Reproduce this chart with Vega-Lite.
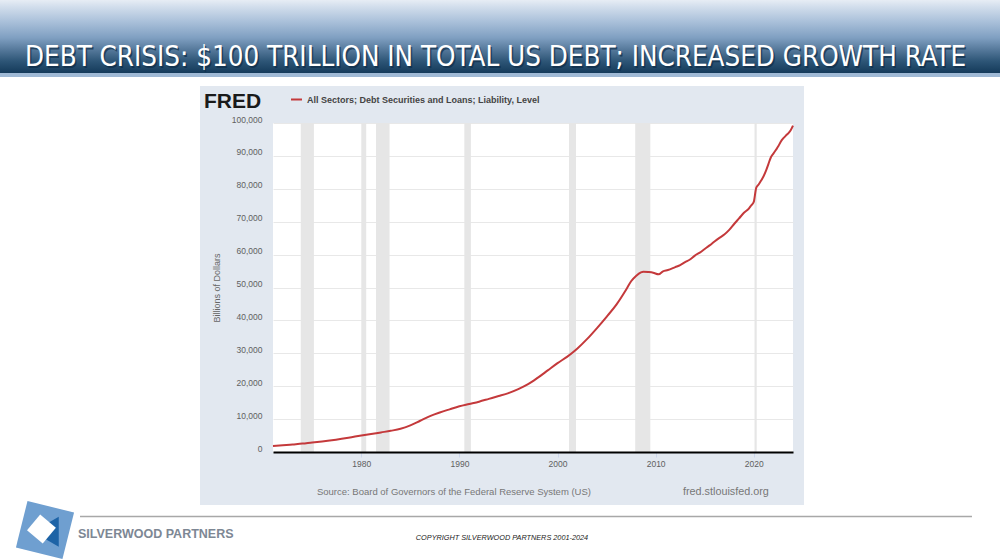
{
  "$schema": "https://vega.github.io/schema/vega-lite/v6.json",
  "width": 520,
  "height": 329,
  "autosize": {"type": "none"},
  "padding": {"left": 273, "top": 123, "right": 207, "bottom": 108},
  "background": "#e2e8f0",
  "config": {"view": {"stroke": null, "fill": "white"}, "font": "Liberation Sans"},
  "datasets": {
    "debt": [
      {"year": 1971.0, "value": 1850}, {"year": 1972.0, "value": 2050}, {"year": 1973.0, "value": 2300},
      {"year": 1974.0, "value": 2550}, {"year": 1975.0, "value": 2900}, {"year": 1976.0, "value": 3200},
      {"year": 1977.0, "value": 3550}, {"year": 1978.0, "value": 4000}, {"year": 1979.0, "value": 4500},
      {"year": 1980.0, "value": 5000}, {"year": 1981.0, "value": 5450}, {"year": 1982.0, "value": 5950},
      {"year": 1983.0, "value": 6450}, {"year": 1984.0, "value": 7050}, {"year": 1985.0, "value": 8100},
      {"year": 1986.0, "value": 9500}, {"year": 1987.0, "value": 10900}, {"year": 1988.0, "value": 12000},
      {"year": 1989.0, "value": 12970}, {"year": 1990.0, "value": 13900}, {"year": 1991.0, "value": 14600},
      {"year": 1992.0, "value": 15300}, {"year": 1993.0, "value": 16150}, {"year": 1994.0, "value": 17000},
      {"year": 1995.0, "value": 17900}, {"year": 1996.0, "value": 19100}, {"year": 1997.0, "value": 20600},
      {"year": 1998.0, "value": 22600}, {"year": 1999.0, "value": 24800}, {"year": 2000.0, "value": 27000},
      {"year": 2001.0, "value": 29000}, {"year": 2002.0, "value": 31400}, {"year": 2003.0, "value": 34300},
      {"year": 2004.0, "value": 37600}, {"year": 2005.0, "value": 41100}, {"year": 2006.0, "value": 44800},
      {"year": 2007.0, "value": 49400}, {"year": 2007.5, "value": 51900}, {"year": 2008.0, "value": 53500},
      {"year": 2008.5, "value": 54600}, {"year": 2008.75, "value": 54800}, {"year": 2009.25, "value": 54700},
      {"year": 2009.75, "value": 54500}, {"year": 2010.3, "value": 54000}, {"year": 2010.75, "value": 54900},
      {"year": 2011.25, "value": 55300}, {"year": 2012.0, "value": 56200}, {"year": 2012.5, "value": 56800},
      {"year": 2013.0, "value": 57700}, {"year": 2013.5, "value": 58500}, {"year": 2014.0, "value": 59700},
      {"year": 2014.5, "value": 60600}, {"year": 2015.0, "value": 61700}, {"year": 2015.5, "value": 62800},
      {"year": 2016.0, "value": 64000}, {"year": 2016.5, "value": 65100}, {"year": 2017.0, "value": 66100},
      {"year": 2017.5, "value": 67500}, {"year": 2018.0, "value": 69300}, {"year": 2018.5, "value": 71000},
      {"year": 2019.0, "value": 72700}, {"year": 2019.5, "value": 74000}, {"year": 2019.75, "value": 75000},
      {"year": 2020.0, "value": 76000}, {"year": 2020.25, "value": 80300}, {"year": 2020.5, "value": 81300},
      {"year": 2020.75, "value": 82500}, {"year": 2021.0, "value": 83800}, {"year": 2021.25, "value": 85500},
      {"year": 2021.5, "value": 87600}, {"year": 2021.75, "value": 89600}, {"year": 2022.0, "value": 90700},
      {"year": 2022.25, "value": 91800}, {"year": 2022.5, "value": 92900}, {"year": 2022.75, "value": 94300},
      {"year": 2023.0, "value": 95300}, {"year": 2023.25, "value": 96100}, {"year": 2023.5, "value": 96800},
      {"year": 2023.75, "value": 97700}, {"year": 2024.0, "value": 99200}
    ],
    "recessions": [
      {"start": 1973.83, "end": 1975.17}, {"start": 1980.0, "end": 1980.5},
      {"start": 1981.5, "end": 1982.88}, {"start": 1990.5, "end": 1991.17},
      {"start": 2001.17, "end": 2001.88}, {"start": 2007.92, "end": 2009.46},
      {"start": 2020.08, "end": 2020.3}
    ],
    "one": [{}]
  },
  "layer": [
    {
      "data": {"name": "recessions"},
      "mark": {"type": "rect", "fill": "#e6e6e6"},
      "encoding": {
        "x": {"field": "start", "type": "quantitative",
          "scale": {"domain": [1971, 2024], "nice": false, "zero": false},
          "axis": {"title": null, "values": [1980, 1990, 2000, 2010, 2020], "tickCount": 12, "format": "d", "grid": false,
            "domainColor": "#000000", "domainWidth": 2, "tickColor": "#ccd6eb", "tickSize": 5,
            "labelColor": "#606060", "labelFontSize": 8.5, "labelPadding": 2, "zindex": 1}},
        "x2": {"field": "end"},
        "y": {"datum": 0, "type": "quantitative",
          "scale": {"domain": [0, 100000], "nice": false, "zero": false},
          "axis": {"title": "Billions of Dollars", "titleFontSize": 9, "titleFontWeight": "normal",
            "titleColor": "#666666", "titlePadding": 10, "tickCount": 12,
            "values": [0, 10000, 20000, 30000, 40000, 50000, 60000, 70000, 80000, 90000, 100000],
            "format": ",d", "domain": false, "ticks": false, "grid": true, "gridColor": "#e8e8e8",
            "labelOverlap": false, "labelColor": "#606060", "labelFontSize": 8.5, "labelPadding": 11,
            "labelOffset": -4, "zindex": 0}},
        "y2": {"datum": 100000}
      }
    },
    {
      "data": {"name": "debt"},
      "mark": {"type": "line", "strokeWidth": 2, "interpolate": "monotone"},
      "encoding": {
        "x": {"field": "year", "type": "quantitative",
          "scale": {"domain": [1971, 2024], "nice": false, "zero": false},
          "axis": {"title": null, "values": [1980, 1990, 2000, 2010, 2020], "tickCount": 12, "format": "d", "grid": false,
            "domainColor": "#000000", "domainWidth": 2, "tickColor": "#ccd6eb", "tickSize": 5,
            "labelColor": "#606060", "labelFontSize": 8.5, "labelPadding": 2, "zindex": 1}},
        "y": {"field": "value", "type": "quantitative",
          "scale": {"domain": [0, 100000], "nice": false, "zero": false},
          "axis": {"title": "Billions of Dollars", "titleFontSize": 9, "titleFontWeight": "normal",
            "titleColor": "#666666", "titlePadding": 10, "tickCount": 12,
            "values": [0, 10000, 20000, 30000, 40000, 50000, 60000, 70000, 80000, 90000, 100000],
            "format": ",d", "domain": false, "ticks": false, "grid": true, "gridColor": "#e8e8e8",
            "labelOverlap": false, "labelColor": "#606060", "labelFontSize": 8.5, "labelPadding": 11,
            "labelOffset": -4, "zindex": 0}},
        "color": {"datum": "All Sectors; Debt Securities and Loans; Liability, Level",
          "scale": {"range": ["#c4393b"]},
          "legend": {"title": null, "orient": "none", "legendX": 17, "legendY": -30,
            "symbolType": "stroke", "symbolStrokeWidth": 2, "symbolSize": 120,
            "labelFontSize": 9, "labelFontWeight": "bold", "labelColor": "#444444",
            "labelLimit": 500, "zindex": 1}}
      }
    },
    {
      "data": {"name": "one"},
      "mark": {"type": "rect", "clip": false, "fill": "white"},
      "encoding": {
        "x": {"datum": 1942.6, "type": "quantitative"}, "x2": {"datum": 2045.7},
        "y": {"datum": 138900, "type": "quantitative"}, "y2": {"datum": 111246}
      }
    },
    {
      "data": {"name": "one"},
      "mark": {"type": "rect", "clip": false, "fill": "white"},
      "encoding": {
        "x": {"datum": 1942.6, "type": "quantitative"}, "x2": {"datum": 2045.7},
        "y": {"datum": -16109, "type": "quantitative"}, "y2": {"datum": -34346}
      }
    },
    {
      "data": {"name": "one"},
      "mark": {"type": "rect", "clip": false, "fill": "white"},
      "encoding": {
        "x": {"datum": 1942.6, "type": "quantitative"}, "x2": {"datum": 1963.56},
        "y": {"datum": 138900, "type": "quantitative"}, "y2": {"datum": -34346}
      }
    },
    {
      "data": {"name": "one"},
      "mark": {"type": "rect", "clip": false, "fill": "white"},
      "encoding": {
        "x": {"datum": 2025.12, "type": "quantitative"}, "x2": {"datum": 2045.7},
        "y": {"datum": 138900, "type": "quantitative"}, "y2": {"datum": -34346}
      }
    },
    {
      "data": {"name": "one"},
      "mark": {"type": "rect", "clip": false,
        "fill": {"gradient": "linear", "x1": 0, "y1": 0, "x2": 0, "y2": 1,
          "stops": [
            {"offset": 0, "color": "#f6f8fb"}, {"offset": 0.15, "color": "#d2deec"},
            {"offset": 0.35, "color": "#a8bfd9"}, {"offset": 0.55, "color": "#7f9fc1"},
            {"offset": 0.7, "color": "#56799b"}, {"offset": 0.85, "color": "#2d5576"},
            {"offset": 1, "color": "#143a5a"}]}},
      "encoding": {
        "x": {"datum": 1942.6, "type": "quantitative"}, "x2": {"datum": 2045.7},
        "y": {"datum": 138900, "type": "quantitative"}, "y2": {"datum": 115197}
      }
    },
    {
      "data": {"name": "one"},
      "mark": {"type": "rect", "clip": false, "fill": "#9fb9d5"},
      "encoding": {
        "x": {"datum": 1942.6, "type": "quantitative"}, "x2": {"datum": 2045.7},
        "y": {"datum": 115197, "type": "quantitative"}, "y2": {"datum": 113982}
      }
    },
    {
      "data": {"name": "one"},
      "mark": {"type": "text", "clip": false, "align": "left", "baseline": "alphabetic",
        "font": "DejaVu Sans Condensed", "fontSize": 27.5, "fill": "#0f2d48", "dx": 1.5, "dy": 1.5, "opacity": 0.7,
        "text": "DEBT CRISIS: $100 TRILLION IN TOTAL US DEBT; INCREASED GROWTH RATE"},
      "encoding": {"x": {"datum": 1945.72, "type": "quantitative"}, "y": {"datum": 117325, "type": "quantitative"}}
    },
    {
      "data": {"name": "one"},
      "mark": {"type": "text", "clip": false, "align": "left", "baseline": "alphabetic",
        "font": "DejaVu Sans Condensed", "fontSize": 27.5, "fill": "white",
        "text": "DEBT CRISIS: $100 TRILLION IN TOTAL US DEBT; INCREASED GROWTH RATE"},
      "encoding": {"x": {"datum": 1945.72, "type": "quantitative"}, "y": {"datum": 117325, "type": "quantitative"}}
    },
    {
      "data": {"name": "one"},
      "mark": {"type": "text", "clip": false, "align": "left", "baseline": "alphabetic",
        "fontSize": 21, "fontWeight": "bold", "fill": "#1a1a1a", "text": "FRED"},
      "encoding": {"x": {"datum": 1963.97, "type": "quantitative"}, "y": {"datum": 104559, "type": "quantitative"}}
    },
    {
      "data": {"name": "one"},
      "mark": {"type": "text", "clip": false, "align": "left", "baseline": "alphabetic",
        "fontSize": 9.5, "fill": "#777777", "text": "Source: Board of Governors of the Federal Reserve System (US)"},
      "encoding": {"x": {"datum": 1975.48, "type": "quantitative"}, "y": {"datum": -13070, "type": "quantitative"}}
    },
    {
      "data": {"name": "one"},
      "mark": {"type": "text", "clip": false, "align": "left", "baseline": "alphabetic",
        "fontSize": 10.8, "fill": "#777777", "text": "fred.stlouisfed.org"},
      "encoding": {"x": {"datum": 2012.79, "type": "quantitative"}, "y": {"datum": -13070, "type": "quantitative"}}
    },
    {
      "data": {"name": "one"},
      "mark": {"type": "rule", "clip": false, "stroke": "#a8a8a8", "strokeWidth": 1.5},
      "encoding": {"x": {"datum": 1951.33, "type": "quantitative"}, "x2": {"datum": 2042.24},
        "y": {"datum": -19605, "type": "quantitative"}}
    },
    {
      "data": {"name": "one"},
      "mark": {"type": "text", "clip": false, "align": "left", "baseline": "alphabetic",
        "fontSize": 12.5, "fontWeight": "bold", "fill": "#7d8794", "text": "SILVERWOOD PARTNERS"},
      "encoding": {"x": {"datum": 1951.12, "type": "quantitative"}, "y": {"datum": -26140, "type": "quantitative"}}
    },
    {
      "data": {"name": "one"},
      "mark": {"type": "text", "clip": false, "align": "center", "baseline": "alphabetic",
        "fontSize": 7.3, "fontStyle": "italic", "fill": "#222222", "text": "COPYRIGHT SILVERWOOD PARTNERS 2001-2024"},
      "encoding": {"x": {"datum": 1994.34, "type": "quantitative"}, "y": {"datum": -26748, "type": "quantitative"}}
    },
    {
      "data": {"name": "one"},
      "mark": {"type": "point", "clip": false, "shape": "square", "filled": true, "size": 2300, "angle": 14,
        "fill": "#6f9fd0", "opacity": 1},
      "encoding": {"x": {"datum": 1947.76, "type": "quantitative"}, "y": {"datum": -23708, "type": "quantitative"}}
    },
    {
      "data": {"name": "one"},
      "mark": {"type": "point", "clip": false, "shape": "triangle-down", "filled": true, "size": 900, "angle": -30,
        "fill": "#1d63a6", "opacity": 1},
      "encoding": {"x": {"datum": 1948.5, "type": "quantitative"}, "y": {"datum": -25400, "type": "quantitative"}}
    },
    {
      "data": {"name": "one"},
      "mark": {"type": "point", "clip": false, "shape": "square", "filled": true, "size": 420, "angle": 40,
        "fill": "white", "opacity": 1},
      "encoding": {"x": {"datum": 1947.4, "type": "quantitative"}, "y": {"datum": -23400, "type": "quantitative"}}
    }
  ]
}
